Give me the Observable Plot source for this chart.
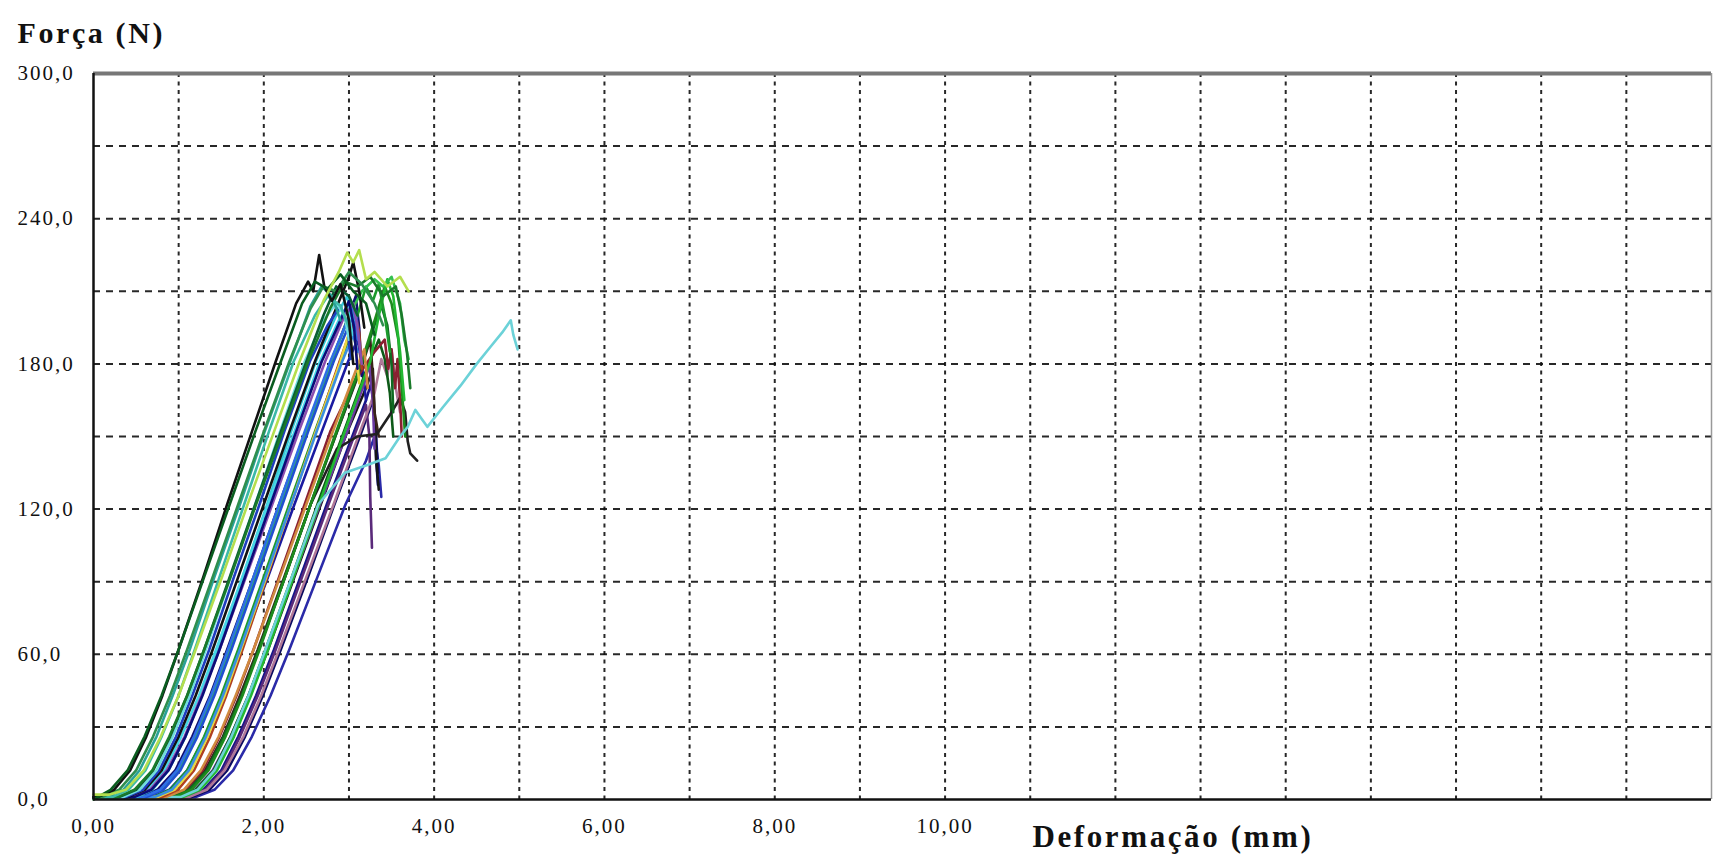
<!DOCTYPE html>
<html>
<head>
<meta charset="utf-8">
<script src="https://cdn.jsdelivr.net/npm/d3@7"></script>
<script src="https://cdn.jsdelivr.net/npm/@observablehq/plot@0.6"></script>
<style>
  html, body { margin: 0; padding: 0; background: #fff; }
  #chart svg { display: block; }
</style>
</head>
<body>
<div id="chart"></div>
<script>
// Axis titles and ticks
const yTitle = "Força (N)";
const xTitle = "Deformação (mm)";
const yTicks = [0, 60, 120, 180, 240, 300];
const yTickLabels = ["0,0", "60,0", "120,0", "180,0", "240,0", "300,0"];
const xTicks = [0, 2, 4, 6, 8, 10];
const xTickLabels = ["0,00", "2,00", "4,00", "6,00", "8,00", "10,00"];
const xGrid = [1, 2, 3, 4, 5, 6, 7, 8, 9, 10, 11, 12, 13, 14, 15, 16, 17, 18];
const yGrid = [30, 60, 90, 120, 150, 180, 210, 240, 270];

// Force–deformation curves of each specimen: [deformação (mm), força (N)]
const cp01 = [[0,0],[0.2,4],[0.4,12],[0.6,26],[0.8,43],[1.0,62],[1.3,92],[1.6,122],[1.9,152],[2.2,181],[2.45,205],[2.6,214],[2.75,211],[2.9,217],[3.05,210],[3.2,205],[3.3,192]];
const cp02 = [[0,1],[0.05,1],[0.24,4],[0.43,12],[0.62,26],[0.81,43],[1.0,62],[1.29,92],[1.57,122],[1.86,152],[2.14,181],[2.38,205],[2.52,214],[2.58,210],[2.65,225],[2.71,212],[2.8,206],[2.9,213],[3.0,198],[3.05,180]];
const cp03 = [[0,1],[0.1,1],[0.3,4],[0.5,12],[0.7,26],[0.9,43],[1.1,62],[1.4,92],[1.7,122],[2.0,152],[2.3,181],[2.55,203],[2.7,212],[2.85,210],[3.0,218],[3.15,213],[3.3,205],[3.4,196]];
const cp04 = [[0,2],[0.18,2],[0.38,4],[0.59,12],[0.79,26],[1.0,43],[1.2,62],[1.51,92],[1.81,122],[2.12,152],[2.42,181],[2.7,206],[2.88,218],[2.98,226],[3.05,222],[3.12,227],[3.2,215],[3.3,218],[3.45,212],[3.6,216],[3.7,210]];
const cp05 = [[0,1],[0.22,1],[0.41,4],[0.61,12],[0.8,26],[1.0,43],[1.19,62],[1.48,92],[1.77,122],[2.06,152],[2.35,181],[2.6,200],[2.75,208],[2.9,204],[3.0,195]];
const cp06 = [[0,1],[0.28,1],[0.48,4],[0.69,12],[0.89,26],[1.1,43],[1.3,62],[1.61,92],[1.91,122],[2.22,152],[2.52,181],[2.78,203],[2.95,214],[3.1,212],[3.25,216],[3.4,208],[3.55,212],[3.62,200],[3.68,185],[3.72,170]];
const cp07 = [[0,1],[0.35,1],[0.54,4],[0.74,12],[0.93,26],[1.13,43],[1.32,62],[1.61,92],[1.9,122],[2.19,152],[2.48,181],[2.7,198],[2.85,205],[2.95,200],[3.0,190]];
const cp08 = [[0,1],[0.4,1],[0.6,4],[0.8,12],[1.0,26],[1.2,43],[1.4,62],[1.7,92],[2.0,122],[2.3,152],[2.6,181],[2.85,203],[3.0,216],[3.05,222],[3.12,210],[3.18,195]];
const cp09 = [[0,1],[0.45,1],[0.66,4],[0.86,12],[1.07,26],[1.27,43],[1.48,62],[1.79,92],[2.1,122],[2.41,152],[2.72,181],[2.95,200],[3.05,205],[3.1,195],[3.15,180]];
const cp10 = [[0,1],[0.5,1],[0.69,4],[0.88,12],[1.08,26],[1.27,43],[1.46,62],[1.75,92],[2.04,122],[2.32,152],[2.61,181],[2.85,200],[2.98,208],[3.05,198]];
const cp11 = [[0,1],[0.55,1],[0.75,4],[0.96,12],[1.16,26],[1.37,43],[1.57,62],[1.88,92],[2.18,122],[2.49,152],[2.79,181],[3.0,200],[3.08,208],[3.12,195],[3.15,175]];
const cp12 = [[0,1],[0.62,1],[0.82,4],[1.02,12],[1.22,26],[1.42,43],[1.62,62],[1.92,92],[2.22,122],[2.52,152],[2.82,181],[3.0,196],[3.08,202],[3.12,188]];
const cp13 = [[0,1],[0.68,1],[0.89,4],[1.1,12],[1.31,26],[1.52,43],[1.73,62],[2.05,92],[2.36,122],[2.68,152],[2.99,181],[3.1,190],[3.15,180],[3.2,165]];
const cp14 = [[0,1],[0.72,1],[0.92,4],[1.12,12],[1.32,26],[1.52,43],[1.72,62],[2.02,92],[2.32,122],[2.62,152],[2.92,181],[3.05,192],[3.1,185]];
const cp15 = [[0,1],[0.75,1],[0.95,4],[1.15,12],[1.34,26],[1.54,43],[1.73,62],[2.03,92],[2.32,122],[2.61,152],[2.9,181],[3.02,195],[3.08,188],[3.12,172]];
const cp16 = [[0,1],[0.8,1],[0.99,4],[1.18,12],[1.37,26],[1.56,43],[1.75,62],[2.04,92],[2.32,122],[2.61,152],[2.89,181],[3.0,192],[3.08,200],[3.12,193],[3.15,178]];
const cp17 = [[0,1],[0.85,1],[1.06,4],[1.26,12],[1.47,26],[1.67,43],[1.88,62],[2.19,92],[2.5,122],[2.81,152],[3.12,181],[3.18,186],[3.22,170]];
const cp18 = [[0,1],[0.9,1],[1.11,4],[1.31,12],[1.52,26],[1.72,43],[1.93,62],[2.24,92],[2.55,122],[2.86,152],[3.17,181],[3.25,190],[3.28,175],[3.3,160],[3.35,150]];
const cp19 = [[0,1],[0.95,1],[1.15,4],[1.35,12],[1.55,26],[1.75,43],[1.95,62],[2.25,92],[2.55,122],[2.85,152],[3.15,181],[3.32,200],[3.42,212],[3.5,205],[3.58,190],[3.62,170],[3.66,150]];
const cp20 = [[0,1],[1.0,1],[1.2,4],[1.41,12],[1.61,26],[1.82,43],[2.02,62],[2.33,92],[2.63,122],[2.94,152],[3.24,181],[3.35,190],[3.42,182],[3.48,168],[3.52,150]];
const cp21 = [[0,1],[1.05,1],[1.25,4],[1.45,12],[1.65,26],[1.85,43],[2.05,62],[2.35,92],[2.65,122],[2.95,152],[3.25,181],[3.35,200],[3.45,215],[3.52,208],[3.6,185],[3.65,165]];
const cp22 = [[0,1],[1.1,1],[1.31,4],[1.52,12],[1.72,26],[1.93,43],[2.14,62],[2.45,92],[2.76,122],[3.08,152],[3.2,163],[3.24,150],[3.25,125],[3.27,104]];
const cp23 = [[0,1],[1.12,1],[1.33,4],[1.54,12],[1.76,26],[1.97,43],[2.18,62],[2.5,92],[2.82,122],[3.13,152],[3.3,168],[3.38,182],[3.45,175],[3.5,186],[3.55,170],[3.6,160]];
const cp24 = [[0,1],[1.15,1],[1.36,4],[1.57,12],[1.78,26],[1.99,43],[2.2,62],[2.52,92],[2.83,122],[3.15,152],[3.28,165],[3.32,150],[3.34,135]];
const cp25 = [[0,1],[1.2,1],[1.42,4],[1.64,12],[1.86,26],[2.08,43],[2.3,62],[2.63,92],[2.96,122],[3.2,140],[3.3,150],[3.35,138],[3.38,125]];
const cp26 = [[0,1],[1.02,1],[1.22,4],[1.42,12],[1.62,26],[1.82,43],[2.02,62],[2.33,92],[2.64,122],[2.95,135],[3.2,138],[3.43,141],[3.6,150],[3.69,154],[3.78,161],[3.84,158],[3.92,154],[4.1,162],[4.31,171],[4.5,180],[4.66,187],[4.8,193],[4.9,198],[4.93,192],[4.98,186]];
const cp27 = [[0,1],[0.92,1],[1.12,4],[1.33,12],[1.53,26],[1.74,43],[1.94,62],[2.25,92],[2.55,122],[2.86,145],[3.1,150],[3.33,151],[3.5,160],[3.6,166],[3.66,160],[3.69,148],[3.72,143],[3.8,140]];
const cp28 = [[0,1],[0.88,1],[1.08,4],[1.28,12],[1.48,26],[1.68,43],[1.88,62],[2.18,92],[2.48,122],[2.78,152],[3.05,172],[3.3,185],[3.42,190],[3.46,178],[3.5,186],[3.54,170],[3.57,182],[3.6,165],[3.62,150]];
const cp29 = [[0,1],[0.6,1],[0.8,4],[1.0,12],[1.2,26],[1.4,43],[1.6,62],[1.9,92],[2.2,122],[2.5,152],[2.8,181],[3.0,200],[3.15,210],[3.3,215],[3.4,212],[3.5,216],[3.6,205],[3.65,190],[3.7,182]];
const cp30 = [[0,1],[0.3,1],[0.5,4],[0.7,12],[0.9,26],[1.1,43],[1.3,62],[1.6,92],[1.9,122],[2.2,152],[2.5,181],[2.7,200],[2.85,212],[3.0,208],[3.1,200]];
const cp31 = [[0,1],[0.38,1],[0.58,4],[0.77,12],[0.97,26],[1.16,43],[1.36,62],[1.65,92],[1.95,122],[2.24,152],[2.54,181],[2.75,196],[2.9,204],[2.98,196],[3.02,182]];
const cp32 = [[0,1],[0.48,1],[0.68,4],[0.88,12],[1.08,26],[1.28,43],[1.48,62],[1.78,92],[2.08,122],[2.38,152],[2.68,181],[2.9,198],[3.0,206],[3.06,195],[3.1,178]];
const cp33 = [[0,1],[0.42,1],[0.62,4],[0.83,12],[1.03,26],[1.24,43],[1.44,62],[1.75,92],[2.05,122],[2.36,152],[2.66,181],[2.88,198],[2.98,204],[3.04,192]];
const cp34 = [[0,1],[0.58,1],[0.78,4],[0.98,12],[1.18,26],[1.38,43],[1.58,62],[1.88,92],[2.18,122],[2.48,152],[2.78,181],[2.96,196],[3.05,203],[3.1,190]];
const cp35 = [[0,1],[0.92,1],[1.12,4],[1.33,12],[1.53,26],[1.74,43],[1.94,62],[2.25,92],[2.55,122],[2.86,152],[3.16,181],[3.3,196],[3.38,204],[3.45,196],[3.5,180],[3.52,160]];
const cp36 = [[0,1],[1.08,1],[1.29,4],[1.5,12],[1.7,26],[1.91,43],[2.12,62],[2.43,92],[2.74,122],[3.06,152],[3.2,165],[3.26,172],[3.3,158],[3.32,140],[3.34,130]];
const cp37 = [[0,1],[0.98,1],[1.19,4],[1.4,12],[1.61,26],[1.82,43],[2.03,62],[2.35,92],[2.66,122],[2.98,152],[3.18,172],[3.24,180],[3.28,165],[3.3,145]];
const cp38 = [[0,1],[0.7,1],[0.9,4],[1.1,12],[1.3,26],[1.5,43],[1.7,62],[2.0,92],[2.3,122],[2.6,152],[2.9,181],[3.1,200],[3.2,212],[3.28,206],[3.35,213],[3.42,200],[3.48,185]];
const cp39 = [[0,1],[0.15,1],[0.35,4],[0.54,12],[0.74,26],[0.93,43],[1.13,62],[1.42,92],[1.72,122],[2.01,152],[2.31,181],[2.55,204],[2.68,212],[2.8,208],[2.9,198]];
const cp40 = [[0,1],[1.02,1],[1.23,4],[1.43,12],[1.64,26],[1.84,43],[2.05,62],[2.36,92],[2.67,122],[2.98,152],[3.2,170],[3.28,178],[3.3,160],[3.32,140],[3.35,128]];

// Drawing order (back to front) and stroke colour of each curve
const specimens = [
  cp25, cp24, cp36, cp22, cp40, cp13, cp11, cp23, cp37, cp20, cp18, cp27, cp28, cp35, cp19, cp21, cp38, cp26,
  cp17, cp16, cp15, cp29, cp14, cp12, cp34, cp10, cp33, cp09, cp32, cp08, cp31, cp07, cp30, cp06, cp39, cp05, cp03, cp02, cp01, cp04
];
const specimenColors = [
  "#2a2aa8", "#0a0a60", "#14148a", "#5a2a7a", "#161616", "#1a1aa0", "#101070", "#b07898", "#6a3aa0", "#0e5a18", "#3a2418", "#202020", "#8a2030", "#0f6a22", "#1d8a1d", "#22b832", "#1c9a2c", "#6cd2d8",
  "#d08a40", "#b04020", "#e8d840", "#34c050", "#3a8fe0", "#2050d0", "#2e6ee6", "#38c8d8", "#48d6e6", "#8a4fb0", "#0c0c78", "#121212", "#1f3fbf", "#70dede", "#0b5e34", "#1a7a2a", "#2aa198", "#3cb9a8", "#2f8f4e", "#111111", "#0a5c1f", "#b4de4e"
];

const fontFamily = "'Liberation Serif', 'Times New Roman', serif";

const chart = Plot.plot({
  width: 1713,
  height: 857,
  marginLeft: 93,
  marginTop: 73,
  marginBottom: 58,
  marginRight: 2,
  style: { fontFamily, background: "#fff", color: "#111" },
  x: { domain: [0, 19] },
  y: { domain: [0, 300] },
  marks: [
    Plot.gridX(xGrid, { stroke: "#111", strokeOpacity: 0.9, strokeWidth: 2, strokeDasharray: "4,4.5" }),
    Plot.gridY(yGrid, { stroke: "#111", strokeOpacity: 0.9, strokeWidth: 2, strokeDasharray: "7,6" }),
    ...specimens.map((pts, i) => Plot.line(pts, {
      x: d => d[0], y: d => d[1],
      stroke: specimenColors[i], strokeWidth: 2.6, strokeLinejoin: "round"
    })),
    Plot.ruleY([300], { stroke: "#777", strokeWidth: 4 }),
    Plot.ruleX([19], { stroke: "#999", strokeWidth: 1.5 }),
    Plot.ruleX([0], { stroke: "#111", strokeWidth: 2.5 }),
    Plot.ruleY([0], { stroke: "#111", strokeWidth: 2.5 }),
    Plot.axisY(yTicks, {
      tickSize: 0, tickPadding: 0, textAnchor: "start", dx: -76, fontSize: 21, label: null,
      tickFormat: (d) => yTickLabels[yTicks.indexOf(d)]
    }),
    Plot.axisX(xTicks, {
      tickSize: 0, tickPadding: 19, fontSize: 21, label: null,
      tickFormat: (d) => xTickLabels[xTicks.indexOf(d)]
    }),
    Plot.text([yTitle], {
      text: d => d, frameAnchor: "top-left", textAnchor: "start", lineAnchor: "bottom",
      dx: -76, dy: -31, fontSize: 30, fontWeight: "bold", fill: "#111"
    }),
    Plot.text([xTitle], {
      text: d => d, frameAnchor: "bottom-left", textAnchor: "start", lineAnchor: "bottom",
      dx: 939, dy: 47, fontSize: 31, fontWeight: "bold", fill: "#111"
    })
  ]
});

document.getElementById("chart").appendChild(chart);

// Wider letter spacing for the serif labels
const svg = d3.select(chart);
svg.selectAll('g[aria-label="text"] text').attr("letter-spacing", "2.6px");
svg.selectAll('g[aria-label="y-axis tick label"] text, g[aria-label="x-axis tick label"] text').attr("letter-spacing", "2px");
</script>
</body>
</html>
